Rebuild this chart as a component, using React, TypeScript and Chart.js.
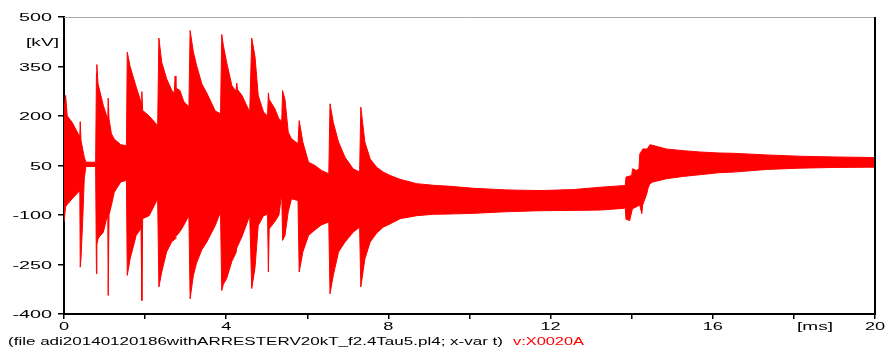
import { useEffect, useRef } from "react";
import { Chart, registerables } from "chart.js";

Chart.register(...registerables);

// Envelope of the (very dense) oscillating voltage
const timeMs = [
  0.0, 0.04, 0.08, 0.2, 0.35, 0.39, 0.4, 0.42, 0.46, 0.5, 0.54, 0.78, 0.8, 0.81, 0.84, 0.88, 0.97,
  1.05, 1.08, 1.09, 1.11, 1.17, 1.24, 1.4, 1.54, 1.56, 1.63, 1.78, 1.9, 1.92, 1.94, 2.1, 2.31, 2.34,
  2.41, 2.53, 2.66, 2.72, 2.74, 2.76, 2.86, 2.95, 3.08, 3.11, 3.19, 3.27, 3.4, 3.52, 3.73, 3.86,
  3.89, 3.93, 4.01, 4.14, 4.24, 4.26, 4.28, 4.39, 4.58, 4.63, 4.71, 4.79, 4.92, 5.02, 5.04, 5.06,
  5.2, 5.3, 5.37, 5.39, 5.45, 5.53, 5.61, 5.77, 5.8, 5.89, 6.03, 6.19, 6.35, 6.53, 6.56, 6.64, 6.77,
  6.93, 7.13, 7.29, 7.32, 7.42, 7.55, 7.71, 7.87, 8.04, 8.29, 8.7, 9.11, 9.52, 10.09, 10.92, 11.74,
  12.56, 13.22, 13.79, 13.84, 13.86, 13.95, 14.0, 14.02, 14.12, 14.18, 14.2, 14.25, 14.27, 14.37,
  14.41, 14.45, 14.52, 14.86, 15.27, 15.68, 16.14, 16.5, 17.33, 18.15, 18.97, 20.0,
];
const upperKV = [
  216, 262, 200, 181, 146, 140, 183, 125, 100, 75, 60, 60, 330, 356, 297, 277, 232,
  201, 195, 254, 191, 146, 130, 113, 110, 394, 350, 288, 242, 274, 217, 200, 171, 436,
  363, 313, 277, 270, 321, 285, 277, 245, 227, 459, 394, 353, 297, 270, 215, 207,
  447, 414, 363, 292, 275, 300, 280, 262, 212, 436, 380, 262, 212, 200, 270, 250,
  222, 191, 185, 277, 250, 151, 131, 116, 186, 121, 60, 50, 35, 25, 237, 181, 121,
  75, 40, 30, 227, 121, 70, 45, 30, 20, 8, -5, -10, -13, -19, -24, -26,
  -23, -16, -11, -11, 15, 18, 20, 40, 35, 40, 85, 95, 100, 100,
  105, 113, 111, 100, 95, 91, 88, 87, 82, 78, 76, 74,
];
const lowerKV = [
  -121, -75, -68, -51, -31, -28, -258, -230, -120, 10, 47, 47, -278, -190, -172, -165, -152,
  -111, -105, -344, -100, -70, -31, 0, 5, -283, -233, -162, -140, -359, -111, -102, -51, -318,
  -273, -212, -180, -175, -172, -165, -150, -132, -102, -354, -283, -245, -205, -182, -132, -91,
  -329, -310, -293, -240, -215, -200, -195, -165, -102, -323, -260, -132, -102, -98, -273, -142,
  -120, -100, -35, -177, -162, -90, -51, -56, -273, -212, -162, -145, -130, -121, -339, -283, -212,
  -182, -152, -137, -318, -233, -182, -155, -137, -127, -111, -102, -98, -97, -95, -90, -87,
  -86, -85, -80, -78, -113, -117, -90, -81, -75, -71, -71, -96, -70, -36,
  -16, -5, 0, 10, 17, 22, 28, 30, 38, 42, 44, 45,
];

const yTickValues = [-400, -250, -100, 50, 200, 350, 500];
const xTickLabels = [0, 4, 8, 12, 16, 20];
const yUnit = "[kV]";
const xUnit = "[ms]";
const captionFile = "(file adi20140120186withARRESTERV20kT_f2.4Tau5.pl4; x-var t)";
const captionVar = "v:X0020A";

const FONT = "11px 'Liberation Sans', Arial, sans-serif";
const CAP_FONT = "10px 'Liberation Sans', Arial, sans-serif";
const DIGIT_W = 11; // the reference's labels are horizontally stretched

function drawWide(
  ctx: CanvasRenderingContext2D,
  text: string,
  x: number,
  y: number,
  align: "left" | "right" | "center",
  sx: number,
  color: string,
  font: string
) {
  ctx.save();
  ctx.font = font;
  ctx.fillStyle = color;
  ctx.textBaseline = "middle";
  ctx.textAlign = "left";
  const w = ctx.measureText(text).width * sx;
  let left = x;
  if (align === "right") left = x - w;
  else if (align === "center") left = x - w / 2;
  ctx.translate(left, y);
  ctx.scale(sx, 1);
  ctx.fillText(text, 0, 0);
  ctx.restore();
}

function measure(ctx: CanvasRenderingContext2D, text: string, font: string) {
  ctx.save();
  ctx.font = font;
  const m = ctx.measureText(text).width;
  ctx.restore();
  return m;
}

const overlay = {
  id: "overlay",
  afterDraw(chart: any) {
    const { ctx, chartArea: a, scales } = chart;
    ctx.save();
    ctx.strokeStyle = "#a8a8a8";
    ctx.lineWidth = 1;
    ctx.beginPath();
    ctx.moveTo(a.left, a.top + 0.5);
    ctx.lineTo(a.right, a.top + 0.5);
    ctx.stroke();
    ctx.strokeStyle = "#000";
    ctx.lineWidth = 2;
    ctx.beginPath();
    ctx.moveTo(a.right, a.top);
    ctx.lineTo(a.right, a.bottom + 1);
    ctx.stroke();
    ctx.restore();

    const sx = DIGIT_W / measure(ctx, "0", FONT);
    yTickValues.forEach((v) =>
      drawWide(ctx, String(v), 52, scales.y.getPixelForValue(v) + 1, "right", sx, "#000", FONT)
    );
    drawWide(ctx, yUnit, 59, 43, "right", 33 / measure(ctx, yUnit, FONT), "#000", FONT);
    xTickLabels.forEach((v) =>
      drawWide(ctx, String(v), scales.x.getPixelForValue(v), 327, "center", sx * 0.92, "#000", FONT)
    );
    drawWide(ctx, xUnit, 797, 327, "left", 36 / measure(ctx, xUnit, FONT), "#000", FONT);
    drawWide(ctx, captionFile, 8, 342, "left", 495 / measure(ctx, captionFile, CAP_FONT), "#000", CAP_FONT);
    drawWide(ctx, captionVar, 513, 342, "left", 71 / measure(ctx, captionVar, CAP_FONT), "#ff0000", CAP_FONT);
  },
};

export default function App() {
  const ref = useRef<HTMLCanvasElement | null>(null);
  useEffect(() => {
    if (!ref.current) return;
    const upper = timeMs.map((t, i) => ({ x: t, y: upperKV[i] }));
    const lower = timeMs.map((t, i) => ({ x: t, y: lowerKV[i] }));
    const chart = new Chart(ref.current, {
      type: "line",
      data: {
        datasets: [
          {
            label: "upper",
            data: upper,
            borderColor: "#ff0000",
            backgroundColor: "#ff0000",
            borderWidth: 1,
            pointRadius: 0,
            tension: 0,
            fill: "+1",
          },
          {
            label: "lower",
            data: lower,
            borderColor: "#ff0000",
            backgroundColor: "#ff0000",
            borderWidth: 1,
            pointRadius: 0,
            tension: 0,
            fill: false,
          },
        ],
      },
      options: {
        animation: false,
        responsive: false,
        devicePixelRatio: 1,
        events: [],
        layout: { padding: { top: 17, right: 11, left: 0, bottom: 0 } },
        plugins: { legend: { display: false }, tooltip: { enabled: false } },
        scales: {
          x: {
            type: "linear",
            min: 0,
            max: 20,
            ticks: { stepSize: 2, display: false },
            grid: { drawOnChartArea: false, drawTicks: true, tickLength: 5, color: "#000", lineWidth: 1.5 },
            border: { display: true, color: "#000", width: 2 },
            afterFit: (s: any) => {
              s.height = 33;
            },
          },
          y: {
            type: "linear",
            min: -400,
            max: 500,
            ticks: { stepSize: 150, display: false },
            grid: { drawOnChartArea: false, drawTicks: true, tickLength: 6, color: "#000", lineWidth: 1.5 },
            border: { display: true, color: "#000", width: 2 },
            afterFit: (s: any) => {
              s.width = 64;
            },
          },
        },
      },
      plugins: [overlay],
    });
    return () => chart.destroy();
  }, []);
  return (
    <div style={{ position: "absolute", left: 0, top: 0, width: 886, height: 347, background: "#fff" }}>
      <canvas ref={ref} width={886} height={347} style={{ width: 886, height: 347, display: "block" }} />
    </div>
  );
}
